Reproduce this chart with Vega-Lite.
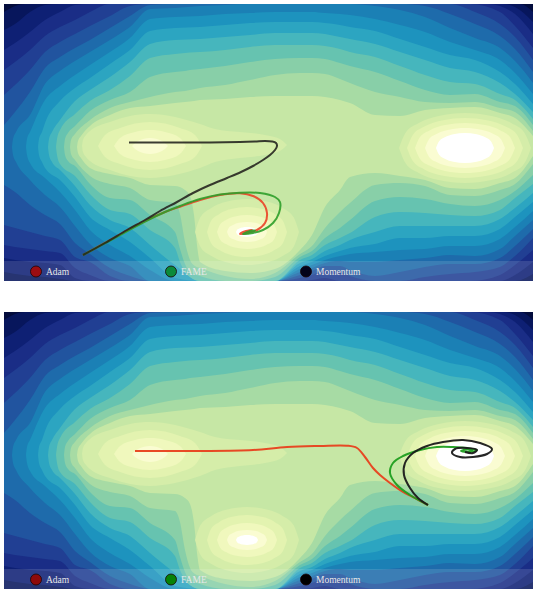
{
"$schema": "https://vega.github.io/schema/vega-lite/v6.json",
"padding": {"left": 4, "top": 4, "right": 4, "bottom": 0},
"background": "white",
"config": {"view": {"stroke": null}},
"spacing": 31,
"datasets": {
"legend": [{"o":"Adam"},{"o":"FAME"},{"o":"Momentum"}],
"regions": [
{"k":19,"g":"19","x":0,"t":0,"b":27.7},{"k":19,"g":"19","x":52.9,"t":0,"b":27.7},
{"k":18,"g":"18","x":0,"t":0.8,"b":27.7},{"k":18,"g":"18","x":1.1,"t":0.2,"b":27.7},{"k":18,"g":"18","x":2.1,"t":0,"b":27.7},{"k":18,"g":"18","x":51.6,"t":0,"b":27.7},{"k":18,"g":"18","x":52.9,"t":0.8,"b":27.7},
{"k":17,"g":"17","x":0,"t":2.6,"b":26.8},{"k":17,"g":"17","x":1.1,"t":2.0,"b":27.0},{"k":17,"g":"17","x":2.6,"t":0.8,"b":27.2},{"k":17,"g":"17","x":4.1,"t":0.1,"b":27.3},{"k":17,"g":"17","x":5.6,"t":0,"b":27.5},{"k":17,"g":"17","x":7.1,"t":0,"b":27.7},{"k":17,"g":"17","x":49.9,"t":0,"b":27.7},{"k":17,"g":"17","x":51.1,"t":0.3,"b":27.7},{"k":17,"g":"17","x":52.9,"t":1.8,"b":27.0},
{"k":16,"g":"16","x":0,"t":4.6,"b":25.4},{"k":16,"g":"16","x":1.1,"t":3.9,"b":25.6},{"k":16,"g":"16","x":2.6,"t":2.8,"b":25.8},{"k":16,"g":"16","x":4.1,"t":1.6,"b":25.9},{"k":16,"g":"16","x":5.6,"t":0.8,"b":26.1},{"k":16,"g":"16","x":7.1,"t":0.1,"b":27.4},{"k":16,"g":"16","x":8.6,"t":0,"b":27.7},{"k":16,"g":"16","x":48.4,"t":0,"b":27.7},{"k":16,"g":"16","x":49.6,"t":0.2,"b":27.7},{"k":16,"g":"16","x":51.1,"t":1.0,"b":27.1},{"k":16,"g":"16","x":52.9,"t":3.0,"b":25.8},
{"k":15,"g":"15","x":0,"t":6.6,"b":24.1},{"k":15,"g":"15","x":1.1,"t":5.8,"b":24.3},{"k":15,"g":"15","x":2.6,"t":4.6,"b":24.5},{"k":15,"g":"15","x":4.1,"t":3.2,"b":24.7},{"k":15,"g":"15","x":5.6,"t":2.3,"b":24.9},{"k":15,"g":"15","x":7.1,"t":1.6,"b":26.4},{"k":15,"g":"15","x":8.6,"t":0.8,"b":27.1},{"k":15,"g":"15","x":10.6,"t":0,"b":27.7},{"k":15,"g":"15","x":29.6,"t":0,"b":27.7},{"k":15,"g":"15","x":30.8,"t":0,"b":27.6},{"k":15,"g":"15","x":32.1,"t":0,"b":27.4},{"k":15,"g":"15","x":33.6,"t":0,"b":27.7},{"k":15,"g":"15","x":46.6,"t":0,"b":27.7},{"k":15,"g":"15","x":49.6,"t":0.8,"b":27.1},{"k":15,"g":"15","x":51.1,"t":2.2,"b":26.1},{"k":15,"g":"15","x":52.9,"t":4.4,"b":24.6},
{"k":14,"g":"14","x":0,"t":9.1,"b":22.1},{"k":14,"g":"14","x":1.1,"t":8.1,"b":22.4},{"k":14,"g":"14","x":2.6,"t":6.6,"b":22.8},{"k":14,"g":"14","x":4.1,"t":4.8,"b":23.2},{"k":14,"g":"14","x":5.6,"t":3.8,"b":23.6},{"k":14,"g":"14","x":7.1,"t":3.0,"b":25.3},{"k":14,"g":"14","x":8.6,"t":2.2,"b":25.8},{"k":14,"g":"14","x":10.6,"t":1.2,"b":27.2},{"k":14,"g":"14","x":12.6,"t":0.2,"b":27.7},{"k":14,"g":"14","x":14.6,"t":0,"b":27.7},{"k":14,"g":"14","x":27.1,"t":0,"b":27.7},{"k":14,"g":"14","x":29.6,"t":0,"b":27.4},{"k":14,"g":"14","x":30.8,"t":0,"b":27.1},{"k":14,"g":"14","x":32.1,"t":0,"b":26.6},{"k":14,"g":"14","x":33.6,"t":0,"b":26.8},{"k":14,"g":"14","x":34.6,"t":0,"b":27.2},{"k":14,"g":"14","x":37.1,"t":0,"b":27.7},{"k":14,"g":"14","x":39.6,"t":0,"b":27.7},{"k":14,"g":"14","x":42.1,"t":0,"b":27.3},{"k":14,"g":"14","x":44.6,"t":0,"b":27.0},{"k":14,"g":"14","x":47.1,"t":0.8,"b":26.8},{"k":14,"g":"14","x":49.6,"t":2.0,"b":26.3},{"k":14,"g":"14","x":51.1,"t":3.3,"b":25.2},{"k":14,"g":"14","x":52.9,"t":5.6,"b":23.4},
{"k":13,"g":"13","x":0,"t":12.1,"b":18.1},{"k":13,"g":"13","x":1.1,"t":10.8,"b":18.8},{"k":13,"g":"13","x":2.6,"t":8.8,"b":20.1},{"k":13,"g":"13","x":4.1,"t":6.4,"b":21.1},{"k":13,"g":"13","x":5.6,"t":5.3,"b":22.0},{"k":13,"g":"13","x":7.1,"t":4.4,"b":23.9},{"k":13,"g":"13","x":8.6,"t":3.6,"b":25.0},{"k":13,"g":"13","x":10.6,"t":2.4,"b":26.4},{"k":13,"g":"13","x":12.6,"t":1.2,"b":27.2},{"k":13,"g":"13","x":14.6,"t":0.1,"b":27.7},{"k":13,"g":"13","x":17.1,"t":0,"b":27.7},{"k":13,"g":"13","x":27.1,"t":0,"b":27.7},{"k":13,"g":"13","x":29.6,"t":0,"b":27.1},{"k":13,"g":"13","x":30.8,"t":0,"b":26.7},{"k":13,"g":"13","x":32.1,"t":0,"b":26.2},{"k":13,"g":"13","x":33.6,"t":0,"b":26.2},{"k":13,"g":"13","x":34.6,"t":0,"b":26.6},{"k":13,"g":"13","x":37.1,"t":0,"b":27.2},{"k":13,"g":"13","x":39.6,"t":0,"b":26.8},{"k":13,"g":"13","x":42.1,"t":0.2,"b":26.3},{"k":13,"g":"13","x":44.6,"t":1.0,"b":26.0},{"k":13,"g":"13","x":47.1,"t":2.0,"b":26.0},{"k":13,"g":"13","x":49.6,"t":3.2,"b":25.4},{"k":13,"g":"13","x":51.1,"t":4.5,"b":24.2},{"k":13,"g":"13","x":52.9,"t":6.8,"b":22.5},
{"k":12,"g":"12","x":0.8,"t":14.3,"b":14.3},{"k":12,"g":"12","x":0.9,"t":13.5,"b":15.1},{"k":12,"g":"12","x":1.2,"t":12.8,"b":15.8},{"k":12,"g":"12","x":2.6,"t":11.1,"b":17.6},{"k":12,"g":"12","x":4.1,"t":8.0,"b":19.1},{"k":12,"g":"12","x":5.6,"t":6.7,"b":20.3},{"k":12,"g":"12","x":7.1,"t":5.7,"b":22.2},{"k":12,"g":"12","x":8.6,"t":4.8,"b":24.0},{"k":12,"g":"12","x":10.6,"t":3.6,"b":25.4},{"k":12,"g":"12","x":12.6,"t":2.3,"b":26.2},{"k":12,"g":"12","x":14.6,"t":0.5,"b":27.7},{"k":12,"g":"12","x":17.1,"t":0.4,"b":27.7},{"k":12,"g":"12","x":19.6,"t":0.2,"b":27.7},{"k":12,"g":"12","x":22.1,"t":0.1,"b":27.7},{"k":12,"g":"12","x":24.6,"t":0,"b":27.7},{"k":12,"g":"12","x":27.1,"t":0,"b":27.7},{"k":12,"g":"12","x":29.6,"t":0,"b":26.8},{"k":12,"g":"12","x":30.8,"t":0,"b":26.4},{"k":12,"g":"12","x":32.1,"t":0,"b":25.9},{"k":12,"g":"12","x":33.6,"t":0,"b":25.7},{"k":12,"g":"12","x":34.6,"t":0,"b":25.8},{"k":12,"g":"12","x":37.1,"t":0.2,"b":25.8},{"k":12,"g":"12","x":39.6,"t":0.6,"b":25.6},{"k":12,"g":"12","x":42.1,"t":1.3,"b":25.4},{"k":12,"g":"12","x":44.6,"t":2.4,"b":25.1},{"k":12,"g":"12","x":47.1,"t":3.4,"b":25.2},{"k":12,"g":"12","x":49.6,"t":4.4,"b":24.5},{"k":12,"g":"12","x":51.1,"t":5.7,"b":23.2},{"k":12,"g":"12","x":52.9,"t":7.9,"b":21.6},
{"k":11,"g":"11","x":2.2,"t":14.3,"b":14.3},{"k":11,"g":"11","x":2.3,"t":13.5,"b":15.1},{"k":11,"g":"11","x":2.6,"t":12.8,"b":15.9},{"k":11,"g":"11","x":4.1,"t":9.6,"b":17.4},{"k":11,"g":"11","x":5.6,"t":8.2,"b":18.8},{"k":11,"g":"11","x":7.1,"t":7.1,"b":20.6},{"k":11,"g":"11","x":8.6,"t":6.1,"b":22.6},{"k":11,"g":"11","x":10.6,"t":4.8,"b":24.1},{"k":11,"g":"11","x":12.6,"t":3.4,"b":25.2},{"k":11,"g":"11","x":14.6,"t":1.5,"b":26.6},{"k":11,"g":"11","x":17.1,"t":1.3,"b":27.7},{"k":11,"g":"11","x":19.6,"t":1.2,"b":27.7},{"k":11,"g":"11","x":22.1,"t":1.0,"b":27.7},{"k":11,"g":"11","x":24.6,"t":0.9,"b":27.7},{"k":11,"g":"11","x":27.1,"t":0.8,"b":27.7},{"k":11,"g":"11","x":29.6,"t":0.8,"b":26.5},{"k":11,"g":"11","x":30.8,"t":0.8,"b":26.1},{"k":11,"g":"11","x":32.1,"t":0.9,"b":25.6},{"k":11,"g":"11","x":33.6,"t":1.0,"b":25.2},{"k":11,"g":"11","x":34.6,"t":1.1,"b":25.0},{"k":11,"g":"11","x":37.1,"t":1.5,"b":24.8},{"k":11,"g":"11","x":39.6,"t":2.1,"b":24.6},{"k":11,"g":"11","x":42.1,"t":2.8,"b":24.5},{"k":11,"g":"11","x":44.6,"t":3.8,"b":24.2},{"k":11,"g":"11","x":47.1,"t":4.6,"b":24.2},{"k":11,"g":"11","x":49.6,"t":5.6,"b":23.5},{"k":11,"g":"11","x":51.1,"t":6.9,"b":22.3},{"k":11,"g":"11","x":52.9,"t":9.0,"b":20.7},
{"k":10,"g":"10","x":3.4,"t":14.3,"b":14.3},{"k":10,"g":"10","x":3.5,"t":13.5,"b":15.1},{"k":10,"g":"10","x":3.8,"t":12.8,"b":15.8},{"k":10,"g":"10","x":4.1,"t":11.9,"b":16.4},{"k":10,"g":"10","x":5.6,"t":9.7,"b":17.6},{"k":10,"g":"10","x":7.1,"t":8.4,"b":19.3},{"k":10,"g":"10","x":8.6,"t":7.4,"b":21.3},{"k":10,"g":"10","x":10.6,"t":6.0,"b":22.6},{"k":10,"g":"10","x":12.6,"t":4.6,"b":23.8},{"k":10,"g":"10","x":14.6,"t":2.7,"b":25.4},{"k":10,"g":"10","x":17.1,"t":2.4,"b":27.4},{"k":10,"g":"10","x":19.6,"t":2.3,"b":27.7},{"k":10,"g":"10","x":22.1,"t":2.1,"b":27.7},{"k":10,"g":"10","x":24.6,"t":1.9,"b":27.7},{"k":10,"g":"10","x":27.1,"t":1.8,"b":27.7},{"k":10,"g":"10","x":29.6,"t":1.8,"b":26.2},{"k":10,"g":"10","x":30.8,"t":1.8,"b":25.8},{"k":10,"g":"10","x":32.1,"t":1.9,"b":25.2},{"k":10,"g":"10","x":33.6,"t":2.1,"b":24.7},{"k":10,"g":"10","x":34.6,"t":2.3,"b":24.4},{"k":10,"g":"10","x":37.1,"t":2.7,"b":24.0},{"k":10,"g":"10","x":39.6,"t":3.5,"b":23.4},{"k":10,"g":"10","x":42.1,"t":4.3,"b":23.4},{"k":10,"g":"10","x":44.6,"t":5.1,"b":23.2},{"k":10,"g":"10","x":47.1,"t":5.6,"b":23.2},{"k":10,"g":"10","x":49.6,"t":6.8,"b":22.5},{"k":10,"g":"10","x":51.1,"t":8.0,"b":21.3},{"k":10,"g":"10","x":52.9,"t":10.0,"b":19.8},
{"k":9,"g":"9","x":4.4,"t":14.3,"b":14.3},{"k":9,"g":"9","x":4.5,"t":13.5,"b":15.1},{"k":9,"g":"9","x":4.8,"t":12.8,"b":15.8},{"k":9,"g":"9","x":5.6,"t":11.6,"b":16.6},{"k":9,"g":"9","x":7.1,"t":9.7,"b":18.2},{"k":9,"g":"9","x":8.6,"t":8.6,"b":20.1},{"k":9,"g":"9","x":10.6,"t":7.3,"b":21.6},{"k":9,"g":"9","x":12.6,"t":5.8,"b":22.4},{"k":9,"g":"9","x":14.6,"t":4.0,"b":24.1},{"k":9,"g":"9","x":17.1,"t":3.6,"b":26.1},{"k":9,"g":"9","x":19.6,"t":3.5,"b":27.7},{"k":9,"g":"9","x":22.1,"t":3.3,"b":27.7},{"k":9,"g":"9","x":24.6,"t":3.1,"b":27.7},{"k":9,"g":"9","x":27.1,"t":2.9,"b":27.7},{"k":9,"g":"9","x":29.6,"t":2.9,"b":25.9},{"k":9,"g":"9","x":30.8,"t":2.9,"b":25.5},{"k":9,"g":"9","x":32.1,"t":3.0,"b":24.7},{"k":9,"g":"9","x":33.6,"t":3.3,"b":24.1},{"k":9,"g":"9","x":34.6,"t":3.5,"b":23.6},{"k":9,"g":"9","x":37.1,"t":4.0,"b":22.8},{"k":9,"g":"9","x":39.6,"t":4.8,"b":22.2},{"k":9,"g":"9","x":42.1,"t":5.6,"b":22.2},{"k":9,"g":"9","x":44.6,"t":6.4,"b":22.2},{"k":9,"g":"9","x":47.1,"t":6.8,"b":22.2},{"k":9,"g":"9","x":49.6,"t":7.9,"b":21.5},{"k":9,"g":"9","x":51.1,"t":9.0,"b":20.4},{"k":9,"g":"9","x":52.9,"t":10.8,"b":18.9},
{"k":8,"g":"8","x":5.2,"t":14.3,"b":14.3},{"k":8,"g":"8","x":5.3,"t":13.5,"b":15.1},{"k":8,"g":"8","x":5.6,"t":12.6,"b":16.0},{"k":8,"g":"8","x":7.1,"t":11.0,"b":17.2},{"k":8,"g":"8","x":8.6,"t":9.7,"b":19.0},{"k":8,"g":"8","x":10.6,"t":8.6,"b":20.6},{"k":8,"g":"8","x":12.6,"t":7.2,"b":21.0},{"k":8,"g":"8","x":14.6,"t":5.4,"b":22.6},{"k":8,"g":"8","x":17.1,"t":5.0,"b":24.4},{"k":8,"g":"8","x":17.6,"t":4.95,"b":25.8},{"k":8,"g":"8","x":18.6,"t":4.85,"b":27.3},{"k":8,"g":"8","x":19.6,"t":4.8,"b":27.7},{"k":8,"g":"8","x":22.1,"t":4.6,"b":27.7},{"k":8,"g":"8","x":24.6,"t":4.3,"b":27.7},{"k":8,"g":"8","x":27.1,"t":4.1,"b":27.7},{"k":8,"g":"8","x":29.6,"t":4.1,"b":25.6},{"k":8,"g":"8","x":30.8,"t":4.1,"b":25.1},{"k":8,"g":"8","x":32.1,"t":4.2,"b":24.1},{"k":8,"g":"8","x":33.6,"t":4.5,"b":23.4},{"k":8,"g":"8","x":34.6,"t":4.8,"b":22.9},{"k":8,"g":"8","x":37.1,"t":5.3,"b":21.3},{"k":8,"g":"8","x":39.6,"t":6.2,"b":20.8},{"k":8,"g":"8","x":42.1,"t":7.1,"b":20.9},{"k":8,"g":"8","x":44.6,"t":7.8,"b":21.1},{"k":8,"g":"8","x":47.1,"t":8.0,"b":21.2},{"k":8,"g":"8","x":49.6,"t":9.0,"b":20.6},{"k":8,"g":"8","x":51.1,"t":9.6,"b":19.4},{"k":8,"g":"8","x":52.9,"t":11.5,"b":18.0},
{"k":7,"g":"7","x":6.0,"t":14.3,"b":14.3},{"k":7,"g":"7","x":6.1,"t":13.5,"b":15.1},{"k":7,"g":"7","x":6.4,"t":12.9,"b":15.7},{"k":7,"g":"7","x":7.1,"t":12.2,"b":16.2},{"k":7,"g":"7","x":8.6,"t":10.7,"b":18.0},{"k":7,"g":"7","x":10.6,"t":9.6,"b":19.4},{"k":7,"g":"7","x":12.6,"t":8.8,"b":19.6},{"k":7,"g":"7","x":14.6,"t":7.3,"b":21.1},{"k":7,"g":"7","x":17.1,"t":6.8,"b":22.8},{"k":7,"g":"7","x":17.6,"t":6.75,"b":24.5},{"k":7,"g":"7","x":18.1,"t":6.7,"b":26.0},{"k":7,"g":"7","x":18.6,"t":6.6,"b":26.8},{"k":7,"g":"7","x":19.6,"t":6.5,"b":27.2},{"k":7,"g":"7","x":22.1,"t":6.2,"b":27.7},{"k":7,"g":"7","x":24.6,"t":5.8,"b":27.7},{"k":7,"g":"7","x":27.1,"t":5.5,"b":27.3},{"k":7,"g":"7","x":29.6,"t":5.4,"b":25.3},{"k":7,"g":"7","x":30.8,"t":5.4,"b":24.7},{"k":7,"g":"7","x":32.1,"t":5.5,"b":23.4},{"k":7,"g":"7","x":33.6,"t":5.9,"b":22.4},{"k":7,"g":"7","x":34.6,"t":6.2,"b":21.6},{"k":7,"g":"7","x":37.1,"t":6.8,"b":19.7},{"k":7,"g":"7","x":39.6,"t":7.7,"b":19.3},{"k":7,"g":"7","x":42.1,"t":8.6,"b":19.5},{"k":7,"g":"7","x":44.6,"t":9.1,"b":20.0},{"k":7,"g":"7","x":47.1,"t":9.0,"b":20.2},{"k":7,"g":"7","x":49.6,"t":9.8,"b":19.6},{"k":7,"g":"7","x":51.1,"t":10.2,"b":18.7},{"k":7,"g":"7","x":52.9,"t":12.1,"b":17.1},
{"k":6,"g":"6","x":6.6,"t":14.3,"b":14.3},{"k":6,"g":"6","x":6.7,"t":13.6,"b":15.0},{"k":6,"g":"6","x":7.1,"t":13.0,"b":15.6},{"k":6,"g":"6","x":8.6,"t":11.6,"b":17.2},{"k":6,"g":"6","x":10.6,"t":10.4,"b":18.0},{"k":6,"g":"6","x":12.6,"t":9.8,"b":18.4},{"k":6,"g":"6","x":14.6,"t":9.3,"b":19.6},{"k":6,"g":"6","x":17.1,"t":8.8,"b":19.9},{"k":6,"g":"6","x":17.6,"t":8.75,"b":21.0},{"k":6,"g":"6","x":18.1,"t":8.7,"b":23.8},{"k":6,"g":"6","x":18.6,"t":8.6,"b":25.6},{"k":6,"g":"6","x":19.1,"t":8.5,"b":26.2},{"k":6,"g":"6","x":19.6,"t":8.4,"b":26.4},{"k":6,"g":"6","x":22.1,"t":8.1,"b":27.2},{"k":6,"g":"6","x":24.6,"t":7.6,"b":27.5},{"k":6,"g":"6","x":27.1,"t":7.1,"b":26.9},{"k":6,"g":"6","x":29.6,"t":6.9,"b":25.0},{"k":6,"g":"6","x":30.8,"t":6.9,"b":24.2},{"k":6,"g":"6","x":32.1,"t":7.0,"b":22.4},{"k":6,"g":"6","x":33.6,"t":7.5,"b":20.8},{"k":6,"g":"6","x":34.6,"t":7.9,"b":19.9},{"k":6,"g":"6","x":37.1,"t":8.8,"b":18.1},{"k":6,"g":"6","x":39.6,"t":9.3,"b":17.9},{"k":6,"g":"6","x":42.1,"t":9.8,"b":18.2},{"k":6,"g":"6","x":44.6,"t":9.9,"b":19.1},{"k":6,"g":"6","x":47.1,"t":9.8,"b":19.2},{"k":6,"g":"6","x":49.6,"t":10.4,"b":18.6},{"k":6,"g":"6","x":51.1,"t":10.8,"b":18.0},{"k":6,"g":"6","x":52.9,"t":12.7,"b":16.0},
{"k":5,"g":"5","x":7.3,"t":14.3,"b":14.3},{"k":5,"g":"5","x":7.4,"t":13.7,"b":14.9},{"k":5,"g":"5","x":7.7,"t":13.2,"b":15.4},{"k":5,"g":"5","x":8.6,"t":12.2,"b":16.4},{"k":5,"g":"5","x":10.6,"t":11.1,"b":17.0},{"k":5,"g":"5","x":12.6,"t":10.4,"b":17.4},{"k":5,"g":"5","x":14.6,"t":10.2,"b":18.1},{"k":5,"g":"5","x":17.1,"t":9.9,"b":18.2},{"k":5,"g":"5","x":18.1,"t":9.8,"b":18.6},{"k":5,"g":"5","x":18.6,"t":9.75,"b":19.2},{"k":5,"g":"5","x":19.0,"t":9.7,"b":21.1},{"k":5,"g":"5","x":19.3,"t":9.65,"b":24.1},{"k":5,"g":"5","x":19.6,"t":9.6,"b":25.8},{"k":5,"g":"5","x":22.1,"t":9.5,"b":26.7},{"k":5,"g":"5","x":24.6,"t":9.3,"b":26.9},{"k":5,"g":"5","x":27.1,"t":9.2,"b":26.5},{"k":5,"g":"5","x":29.6,"t":9.2,"b":24.6},{"k":5,"g":"5","x":30.8,"t":9.2,"b":23.1},{"k":5,"g":"5","x":32.1,"t":9.3,"b":20.3},{"k":5,"g":"5","x":33.6,"t":9.6,"b":18.6},{"k":5,"g":"5","x":34.6,"t":9.9,"b":17.3},{"k":5,"g":"5","x":37.1,"t":11.1,"b":16.9},{"k":5,"g":"5","x":39.6,"t":11.2,"b":17.2},{"k":5,"g":"5","x":42.1,"t":10.6,"b":17.6},{"k":5,"g":"5","x":44.6,"t":10.4,"b":18.4},{"k":5,"g":"5","x":47.1,"t":10.3,"b":18.5},{"k":5,"g":"5","x":49.6,"t":10.9,"b":17.9},{"k":5,"g":"5","x":51.1,"t":11.4,"b":17.4},{"k":5,"g":"5","x":52.9,"t":13.2,"b":15.2},
{"k":4,"g":"4a","x":7.8,"t":14.2,"b":14.2},{"k":4,"g":"4a","x":7.9,"t":13.6,"b":14.8},{"k":4,"g":"4a","x":8.2,"t":13.1,"b":15.3},{"k":4,"g":"4a","x":8.6,"t":12.7,"b":15.7},{"k":4,"g":"4a","x":10.6,"t":11.8,"b":16.6},{"k":4,"g":"4a","x":12.6,"t":11.2,"b":17.2},{"k":4,"g":"4a","x":14.6,"t":11.0,"b":17.4},{"k":4,"g":"4a","x":17.1,"t":11.3,"b":17.1},{"k":4,"g":"4a","x":19.6,"t":12.0,"b":16.4},{"k":4,"g":"4a","x":21.1,"t":12.5,"b":15.8},{"k":4,"g":"4a","x":23.6,"t":12.8,"b":15.4},{"k":4,"g":"4a","x":26.1,"t":13.1,"b":15.1},{"k":4,"g":"4a","x":27.6,"t":13.5,"b":14.7},{"k":4,"g":"4a","x":28.3,"t":14.1,"b":14.1},
{"k":4,"g":"4b","x":39.5,"t":14.4,"b":14.4},{"k":4,"g":"4b","x":40.16,"t":12.87,"b":15.93},{"k":4,"g":"4b","x":41.48,"t":11.9,"b":16.9},{"k":4,"g":"4b","x":43.46,"t":11.19,"b":17.61},{"k":4,"g":"4b","x":46.1,"t":10.9,"b":17.9},{"k":4,"g":"4b","x":48.74,"t":11.19,"b":17.61},{"k":4,"g":"4b","x":50.72,"t":11.9,"b":16.9},{"k":4,"g":"4b","x":52.04,"t":12.87,"b":15.93},{"k":4,"g":"4b","x":52.7,"t":14.4,"b":14.4},
{"k":4,"g":"4c","x":19.1,"t":22.8,"b":22.8},{"k":4,"g":"4c","x":19.62,"t":21.36,"b":24.24},{"k":4,"g":"4c","x":20.66,"t":20.44,"b":25.16},{"k":4,"g":"4c","x":22.22,"t":19.78,"b":25.82},{"k":4,"g":"4c","x":24.3,"t":19.5,"b":26.1},{"k":4,"g":"4c","x":26.38,"t":19.78,"b":25.82},{"k":4,"g":"4c","x":27.94,"t":20.44,"b":25.16},{"k":4,"g":"4c","x":28.98,"t":21.36,"b":24.24},{"k":4,"g":"4c","x":29.5,"t":22.8,"b":22.8},
{"k":3,"g":"3a","x":9.4,"t":14.2,"b":14.2},{"k":3,"g":"3a","x":10.1,"t":13.1,"b":15.3},{"k":3,"g":"3a","x":11.6,"t":12.4,"b":16.0},{"k":3,"g":"3a","x":14.6,"t":11.8,"b":16.6},{"k":3,"g":"3a","x":17.6,"t":12.4,"b":16.0},{"k":3,"g":"3a","x":19.1,"t":13.1,"b":15.3},{"k":3,"g":"3a","x":19.8,"t":14.2,"b":14.2},
{"k":3,"g":"3b","x":40.3,"t":14.4,"b":14.4},{"k":3,"g":"3b","x":40.88,"t":13.09,"b":15.71},{"k":3,"g":"3b","x":42.04,"t":12.26,"b":16.54},{"k":3,"g":"3b","x":43.78,"t":11.65,"b":17.15},{"k":3,"g":"3b","x":46.1,"t":11.4,"b":17.4},{"k":3,"g":"3b","x":48.42,"t":11.65,"b":17.15},{"k":3,"g":"3b","x":50.16,"t":12.26,"b":16.54},{"k":3,"g":"3b","x":51.32,"t":13.09,"b":15.71},{"k":3,"g":"3b","x":51.9,"t":14.4,"b":14.4},
{"k":3,"g":"3c","x":20.3,"t":22.8,"b":22.8},{"k":3,"g":"3c","x":20.7,"t":21.71,"b":23.89},{"k":3,"g":"3c","x":21.5,"t":21.02,"b":24.58},{"k":3,"g":"3c","x":22.7,"t":20.51,"b":25.09},{"k":3,"g":"3c","x":24.3,"t":20.3,"b":25.3},{"k":3,"g":"3c","x":25.9,"t":20.51,"b":25.09},{"k":3,"g":"3c","x":27.1,"t":21.02,"b":24.58},{"k":3,"g":"3c","x":27.9,"t":21.71,"b":23.89},{"k":3,"g":"3c","x":28.3,"t":22.8,"b":22.8},
{"k":2,"g":"2a","x":11.0,"t":14.2,"b":14.2},{"k":2,"g":"2a","x":11.6,"t":13.4,"b":15.0},{"k":2,"g":"2a","x":13.1,"t":12.8,"b":15.6},{"k":2,"g":"2a","x":14.6,"t":12.6,"b":15.8},{"k":2,"g":"2a","x":16.1,"t":12.8,"b":15.6},{"k":2,"g":"2a","x":17.6,"t":13.4,"b":15.0},{"k":2,"g":"2a","x":18.2,"t":14.2,"b":14.2},
{"k":2,"g":"2b","x":41.1,"t":14.4,"b":14.4},{"k":2,"g":"2b","x":41.6,"t":13.31,"b":15.49},{"k":2,"g":"2b","x":42.6,"t":12.62,"b":16.18},{"k":2,"g":"2b","x":44.1,"t":12.11,"b":16.69},{"k":2,"g":"2b","x":46.1,"t":11.9,"b":16.9},{"k":2,"g":"2b","x":48.1,"t":12.11,"b":16.69},{"k":2,"g":"2b","x":49.6,"t":12.62,"b":16.18},{"k":2,"g":"2b","x":50.6,"t":13.31,"b":15.49},{"k":2,"g":"2b","x":51.1,"t":14.4,"b":14.4},
{"k":2,"g":"2c","x":21.3,"t":22.8,"b":22.8},{"k":2,"g":"2c","x":21.6,"t":22.06,"b":23.54},{"k":2,"g":"2c","x":22.2,"t":21.59,"b":24.01},{"k":2,"g":"2c","x":23.1,"t":21.24,"b":24.36},{"k":2,"g":"2c","x":24.3,"t":21.1,"b":24.5},{"k":2,"g":"2c","x":25.5,"t":21.24,"b":24.36},{"k":2,"g":"2c","x":26.4,"t":21.59,"b":24.01},{"k":2,"g":"2c","x":27.0,"t":22.06,"b":23.54},{"k":2,"g":"2c","x":27.3,"t":22.8,"b":22.8},
{"k":1,"g":"1a","x":12.8,"t":14.2,"b":14.2},{"k":1,"g":"1a","x":13.4,"t":13.7,"b":14.7},{"k":1,"g":"1a","x":14.6,"t":13.4,"b":15.0},{"k":1,"g":"1a","x":15.8,"t":13.7,"b":14.7},{"k":1,"g":"1a","x":16.4,"t":14.2,"b":14.2},
{"k":1,"g":"1b","x":42.1,"t":14.4,"b":14.4},{"k":1,"g":"1b","x":42.5,"t":13.53,"b":15.27},{"k":1,"g":"1b","x":43.3,"t":12.97,"b":15.83},{"k":1,"g":"1b","x":44.5,"t":12.57,"b":16.23},{"k":1,"g":"1b","x":46.1,"t":12.4,"b":16.4},{"k":1,"g":"1b","x":47.7,"t":12.57,"b":16.23},{"k":1,"g":"1b","x":48.9,"t":12.97,"b":15.83},{"k":1,"g":"1b","x":49.7,"t":13.53,"b":15.27},{"k":1,"g":"1b","x":50.1,"t":14.4,"b":14.4},
{"k":1,"g":"1c","x":22.3,"t":22.8,"b":22.8},{"k":1,"g":"1c","x":22.5,"t":22.36,"b":23.24},{"k":1,"g":"1c","x":22.9,"t":22.09,"b":23.51},{"k":1,"g":"1c","x":23.5,"t":21.88,"b":23.72},{"k":1,"g":"1c","x":24.3,"t":21.8,"b":23.8},{"k":1,"g":"1c","x":25.1,"t":21.88,"b":23.72},{"k":1,"g":"1c","x":25.7,"t":22.09,"b":23.51},{"k":1,"g":"1c","x":26.1,"t":22.36,"b":23.24},{"k":1,"g":"1c","x":26.3,"t":22.8,"b":22.8},
{"k":0,"g":"0b","x":43.2,"t":14.4,"b":14.4},{"k":0,"g":"0b","x":43.49,"t":13.75,"b":15.05},{"k":0,"g":"0b","x":44.07,"t":13.33,"b":15.47},{"k":0,"g":"0b","x":44.94,"t":13.02,"b":15.78},{"k":0,"g":"0b","x":46.1,"t":12.9,"b":15.9},{"k":0,"g":"0b","x":47.26,"t":13.02,"b":15.78},{"k":0,"g":"0b","x":48.13,"t":13.33,"b":15.47},{"k":0,"g":"0b","x":48.71,"t":13.75,"b":15.05},{"k":0,"g":"0b","x":49.0,"t":14.4,"b":14.4},
{"k":0,"g":"0c","x":23.2,"t":22.8,"b":22.8},{"k":0,"g":"0c","x":23.31,"t":22.58,"b":23.02},{"k":0,"g":"0c","x":23.53,"t":22.44,"b":23.16},{"k":0,"g":"0c","x":23.86,"t":22.34,"b":23.26},{"k":0,"g":"0c","x":24.3,"t":22.3,"b":23.3},{"k":0,"g":"0c","x":24.74,"t":22.34,"b":23.26},{"k":0,"g":"0c","x":25.07,"t":22.44,"b":23.16},{"k":0,"g":"0c","x":25.29,"t":22.58,"b":23.02},{"k":0,"g":"0c","x":25.4,"t":22.8,"b":22.8}
],
"paths": [
{"p":"top","o":"Adam","i":0,"x":7.9,"y":25.1},{"p":"top","o":"Adam","i":1,"x":10.6,"y":23.6},{"p":"top","o":"Adam","i":2,"x":13.9,"y":21.8},{"p":"top","o":"Adam","i":3,"x":16.1,"y":20.8},{"p":"top","o":"Adam","i":4,"x":17.6,"y":20.27},{"p":"top","o":"Adam","i":5,"x":19.6,"y":19.6},{"p":"top","o":"Adam","i":6,"x":21.6,"y":19.1},{"p":"top","o":"Adam","i":7,"x":23.6,"y":18.93},{"p":"top","o":"Adam","i":8,"x":24.9,"y":19.2},{"p":"top","o":"Adam","i":9,"x":25.9,"y":19.9},{"p":"top","o":"Adam","i":10,"x":26.3,"y":20.9},{"p":"top","o":"Adam","i":11,"x":26.1,"y":21.9},{"p":"top","o":"Adam","i":12,"x":25.3,"y":22.6},{"p":"top","o":"Adam","i":13,"x":24.3,"y":22.9},{"p":"top","o":"Adam","i":14,"x":23.6,"y":23.0},{"p":"top","o":"Adam","i":15,"x":24.2,"y":22.7},{"p":"top","o":"Adam","i":16,"x":24.8,"y":22.6},{"p":"top","o":"Adam","i":17,"x":24.1,"y":22.85},
{"p":"top","o":"FAME","i":0,"x":7.9,"y":25.1},{"p":"top","o":"FAME","i":1,"x":10.6,"y":23.65},{"p":"top","o":"FAME","i":2,"x":13.9,"y":21.85},{"p":"top","o":"FAME","i":3,"x":16.1,"y":20.8},{"p":"top","o":"FAME","i":4,"x":17.6,"y":20.2},{"p":"top","o":"FAME","i":5,"x":19.6,"y":19.5},{"p":"top","o":"FAME","i":6,"x":21.6,"y":19.05},{"p":"top","o":"FAME","i":7,"x":23.6,"y":18.87},{"p":"top","o":"FAME","i":8,"x":25.6,"y":18.9},{"p":"top","o":"FAME","i":9,"x":27.1,"y":19.3},{"p":"top","o":"FAME","i":10,"x":27.6,"y":19.8},{"p":"top","o":"FAME","i":11,"x":27.5,"y":20.9},{"p":"top","o":"FAME","i":12,"x":26.9,"y":21.9},{"p":"top","o":"FAME","i":13,"x":25.9,"y":22.6},{"p":"top","o":"FAME","i":14,"x":24.9,"y":22.9},{"p":"top","o":"FAME","i":15,"x":23.9,"y":23.0},{"p":"top","o":"FAME","i":16,"x":24.6,"y":22.7},{"p":"top","o":"FAME","i":17,"x":25.1,"y":22.65},{"p":"top","o":"FAME","i":18,"x":24.4,"y":22.8},
{"p":"top","o":"Momentum","i":0,"x":7.9,"y":25.1},{"p":"top","o":"Momentum","i":1,"x":10.1,"y":23.9},{"p":"top","o":"Momentum","i":2,"x":12.3,"y":22.6},{"p":"top","o":"Momentum","i":3,"x":14.1,"y":21.6},{"p":"top","o":"Momentum","i":4,"x":15.6,"y":20.7},{"p":"top","o":"Momentum","i":5,"x":17.3,"y":19.8},{"p":"top","o":"Momentum","i":6,"x":18.9,"y":18.9},{"p":"top","o":"Momentum","i":7,"x":20.6,"y":18.1},{"p":"top","o":"Momentum","i":8,"x":22.3,"y":17.4},{"p":"top","o":"Momentum","i":9,"x":23.7,"y":16.8},{"p":"top","o":"Momentum","i":10,"x":24.9,"y":16.2},{"p":"top","o":"Momentum","i":11,"x":25.9,"y":15.6},{"p":"top","o":"Momentum","i":12,"x":26.6,"y":15.1},{"p":"top","o":"Momentum","i":13,"x":27.1,"y":14.6},{"p":"top","o":"Momentum","i":14,"x":27.3,"y":14.2},{"p":"top","o":"Momentum","i":15,"x":27.2,"y":13.9},{"p":"top","o":"Momentum","i":16,"x":26.8,"y":13.75},{"p":"top","o":"Momentum","i":17,"x":26.1,"y":13.7},{"p":"top","o":"Momentum","i":18,"x":25.1,"y":13.75},{"p":"top","o":"Momentum","i":19,"x":23.6,"y":13.8},{"p":"top","o":"Momentum","i":20,"x":19.6,"y":13.85},{"p":"top","o":"Momentum","i":21,"x":14.6,"y":13.85},{"p":"top","o":"Momentum","i":22,"x":12.5,"y":13.85},
{"p":"bottom","o":"Adam","i":0,"x":42.4,"y":19.3},{"p":"bottom","o":"Adam","i":1,"x":40.9,"y":18.5},{"p":"bottom","o":"Adam","i":2,"x":39.9,"y":18.0},{"p":"bottom","o":"Adam","i":3,"x":38.6,"y":17.1},{"p":"bottom","o":"Adam","i":4,"x":37.6,"y":16.3},{"p":"bottom","o":"Adam","i":5,"x":36.9,"y":15.6},{"p":"bottom","o":"Adam","i":6,"x":36.1,"y":14.5},{"p":"bottom","o":"Adam","i":7,"x":35.3,"y":13.6},{"p":"bottom","o":"Adam","i":8,"x":34.3,"y":13.37},{"p":"bottom","o":"Adam","i":9,"x":31.6,"y":13.4},{"p":"bottom","o":"Adam","i":10,"x":28.3,"y":13.5},{"p":"bottom","o":"Adam","i":11,"x":24.9,"y":13.8},{"p":"bottom","o":"Adam","i":12,"x":19.6,"y":13.9},{"p":"bottom","o":"Adam","i":13,"x":13.1,"y":13.9},
{"p":"bottom","o":"FAME","i":0,"x":42.4,"y":19.3},{"p":"bottom","o":"FAME","i":1,"x":40.6,"y":18.3},{"p":"bottom","o":"FAME","i":2,"x":39.3,"y":17.3},{"p":"bottom","o":"FAME","i":3,"x":38.6,"y":16.1},{"p":"bottom","o":"FAME","i":4,"x":38.9,"y":15.1},{"p":"bottom","o":"FAME","i":5,"x":39.9,"y":14.4},{"p":"bottom","o":"FAME","i":6,"x":41.6,"y":13.8},{"p":"bottom","o":"FAME","i":7,"x":43.3,"y":13.5},{"p":"bottom","o":"FAME","i":8,"x":44.9,"y":13.5},{"p":"bottom","o":"FAME","i":9,"x":46.3,"y":13.6},{"p":"bottom","o":"FAME","i":10,"x":47.3,"y":13.8},{"p":"bottom","o":"FAME","i":11,"x":46.6,"y":14.0},{"p":"bottom","o":"FAME","i":12,"x":45.7,"y":13.9},{"p":"bottom","o":"FAME","i":13,"x":46.4,"y":13.75},{"p":"bottom","o":"FAME","i":14,"x":46.9,"y":13.9},
{"p":"bottom","o":"Momentum","i":0,"x":42.4,"y":19.3},{"p":"bottom","o":"Momentum","i":1,"x":41.4,"y":18.6},{"p":"bottom","o":"Momentum","i":2,"x":40.6,"y":17.6},{"p":"bottom","o":"Momentum","i":3,"x":40.0,"y":16.3},{"p":"bottom","o":"Momentum","i":4,"x":40.1,"y":15.1},{"p":"bottom","o":"Momentum","i":5,"x":40.9,"y":14.1},{"p":"bottom","o":"Momentum","i":6,"x":42.3,"y":13.4},{"p":"bottom","o":"Momentum","i":7,"x":43.9,"y":13.0},{"p":"bottom","o":"Momentum","i":8,"x":45.9,"y":12.8},{"p":"bottom","o":"Momentum","i":9,"x":47.6,"y":13.1},{"p":"bottom","o":"Momentum","i":10,"x":48.8,"y":13.7},{"p":"bottom","o":"Momentum","i":11,"x":48.3,"y":14.2},{"p":"bottom","o":"Momentum","i":12,"x":46.9,"y":14.5},{"p":"bottom","o":"Momentum","i":13,"x":45.6,"y":14.5},{"p":"bottom","o":"Momentum","i":14,"x":44.8,"y":14.1},{"p":"bottom","o":"Momentum","i":15,"x":45.1,"y":13.7},{"p":"bottom","o":"Momentum","i":16,"x":46.3,"y":13.6},{"p":"bottom","o":"Momentum","i":17,"x":47.3,"y":13.8},{"p":"bottom","o":"Momentum","i":18,"x":46.9,"y":14.1},{"p":"bottom","o":"Momentum","i":19,"x":46.1,"y":14.0}
]
},
"vconcat": [
{
"width": 529, "height": 277,
"layer": [
{"layer": [
 {"data": {"name": "regions"},
  "mark": {"type": "area", "interpolate": "monotone"},
  "encoding": {
   "x": {"field": "x", "type": "quantitative", "scale": {"domain": [0, 52.9], "nice": false, "zero": false}, "axis": null},
   "y": {"field": "t", "type": "quantitative", "scale": {"domain": [0, 27.7], "nice": false, "zero": false, "reverse": true}, "axis": null, "stack": null},
   "y2": {"field": "b"},
   "detail": {"field": "g", "type": "nominal"},
   "color": {"field": "k", "type": "ordinal", "legend": null, "scale": {"domain": [0,1,2,3,4,5,6,7,8,9,10,11,12,13,14,15,16,17,18,19], "range": ["#ffffff","#fafcd2","#f0f8bd","#e3f3b0","#d5eda9","#c6e7a5","#a7dba4","#88cfa8","#66c3b0","#46b6bd","#2ca5c1","#1d93be","#1b80b5","#1e6bab","#21549f","#213f93","#1a2d86","#0e2074","#07165c","#030c3c"]}}
  }},
 {"data": {"values": [{}]},
  "mark": {"type": "rect", "color": "#ffffff", "opacity": 0.13},
  "encoding": {
   "x": {"datum": 0, "type": "quantitative"},
   "x2": {"datum": 52.9},
   "y": {"datum": 25.7, "type": "quantitative"},
   "y2": {"datum": 27.7}
  }},
 {"data": {"name": "paths"},
  "transform": [{"filter": "datum.p == 'top'"}],
  "mark": {"type": "line", "strokeWidth": 2, "interpolate": "catmull-rom", "opacity": 0.9},
  "encoding": {
   "x": {"field": "x", "type": "quantitative"},
   "y": {"field": "y", "type": "quantitative"},
   "stroke": {"field": "o", "type": "nominal", "legend": null, "scale": {"domain": ["Adam","FAME","Momentum"], "range": ["#ea4327","#2e9e2a","#262620"]}},
   "order": {"field": "i", "type": "quantitative"}
  }}
]},
{"data": {"name": "legend"},
 "layer": [
  {"mark": {"type": "point", "filled": true, "size": 121, "stroke": "#1a0505", "strokeWidth": 0.8, "opacity": 1},
   "encoding": {
    "x": {"field": "o", "type": "nominal", "axis": null, "scale": {"type": "point", "domain": ["Adam","FAME","Momentum"], "range": [32, 302], "padding": 0}},
    "y": {"datum": 26.75, "type": "quantitative"},
    "fill": {"field": "o", "type": "nominal", "legend": null, "scale": {"domain": ["Adam","FAME","Momentum"], "range": ["#9c0d12","#0b8a3a","#03031a"]}}
   }},
  {"mark": {"type": "text", "align": "left", "baseline": "middle", "dx": 10, "font": "Liberation Serif", "fontSize": 9.5, "color": "#e8e8e8"},
   "encoding": {
    "x": {"field": "o", "type": "nominal", "axis": null, "scale": {"type": "point", "domain": ["Adam","FAME","Momentum"], "range": [32, 302], "padding": 0}},
    "y": {"datum": 26.75, "type": "quantitative"},
    "text": {"field": "o"}
   }}
 ]}
],
"resolve": {"scale": {"x": "independent"}}
},
{
"width": 529, "height": 277,
"layer": [
{"layer": [
 {"data": {"name": "regions"},
  "mark": {"type": "area", "interpolate": "monotone"},
  "encoding": {
   "x": {"field": "x", "type": "quantitative", "scale": {"domain": [0, 52.9], "nice": false, "zero": false}, "axis": null},
   "y": {"field": "t", "type": "quantitative", "scale": {"domain": [0, 27.7], "nice": false, "zero": false, "reverse": true}, "axis": null, "stack": null},
   "y2": {"field": "b"},
   "detail": {"field": "g", "type": "nominal"},
   "color": {"field": "k", "type": "ordinal", "legend": null, "scale": {"domain": [0,1,2,3,4,5,6,7,8,9,10,11,12,13,14,15,16,17,18,19], "range": ["#ffffff","#fafcd2","#f0f8bd","#e3f3b0","#d5eda9","#c6e7a5","#a7dba4","#88cfa8","#66c3b0","#46b6bd","#2ca5c1","#1d93be","#1b80b5","#1e6bab","#21549f","#213f93","#1a2d86","#0e2074","#07165c","#030c3c"]}}
  }},
 {"data": {"values": [{}]},
  "mark": {"type": "rect", "color": "#ffffff", "opacity": 0.13},
  "encoding": {
   "x": {"datum": 0, "type": "quantitative"},
   "x2": {"datum": 52.9},
   "y": {"datum": 25.7, "type": "quantitative"},
   "y2": {"datum": 27.7}
  }},
 {"data": {"name": "paths"},
  "transform": [{"filter": "datum.p == 'bottom'"}],
  "mark": {"type": "line", "strokeWidth": 2, "interpolate": "catmull-rom", "opacity": 0.95},
  "encoding": {
   "x": {"field": "x", "type": "quantitative"},
   "y": {"field": "y", "type": "quantitative"},
   "stroke": {"field": "o", "type": "nominal", "legend": null, "scale": {"domain": ["Adam","FAME","Momentum"], "range": ["#e8401c","#1f9e1f","#1a1a1a"]}},
   "order": {"field": "i", "type": "quantitative"}
  }}
]},
{"data": {"name": "legend"},
 "layer": [
  {"mark": {"type": "point", "filled": true, "size": 121, "stroke": "#1a0505", "strokeWidth": 0.8, "opacity": 1},
   "encoding": {
    "x": {"field": "o", "type": "nominal", "axis": null, "scale": {"type": "point", "domain": ["Adam","FAME","Momentum"], "range": [32, 302], "padding": 0}},
    "y": {"datum": 26.75, "type": "quantitative"},
    "fill": {"field": "o", "type": "nominal", "legend": null, "scale": {"domain": ["Adam","FAME","Momentum"], "range": ["#8e0a0a","#068206","#000000"]}}
   }},
  {"mark": {"type": "text", "align": "left", "baseline": "middle", "dx": 10, "font": "Liberation Serif", "fontSize": 9.5, "color": "#e8e8e8"},
   "encoding": {
    "x": {"field": "o", "type": "nominal", "axis": null, "scale": {"type": "point", "domain": ["Adam","FAME","Momentum"], "range": [32, 302], "padding": 0}},
    "y": {"datum": 26.75, "type": "quantitative"},
    "text": {"field": "o"}
   }}
 ]}
],
"resolve": {"scale": {"x": "independent"}}
}
],
"resolve": {"scale": {"color": "independent", "fill": "independent", "stroke": "independent"}}
}
